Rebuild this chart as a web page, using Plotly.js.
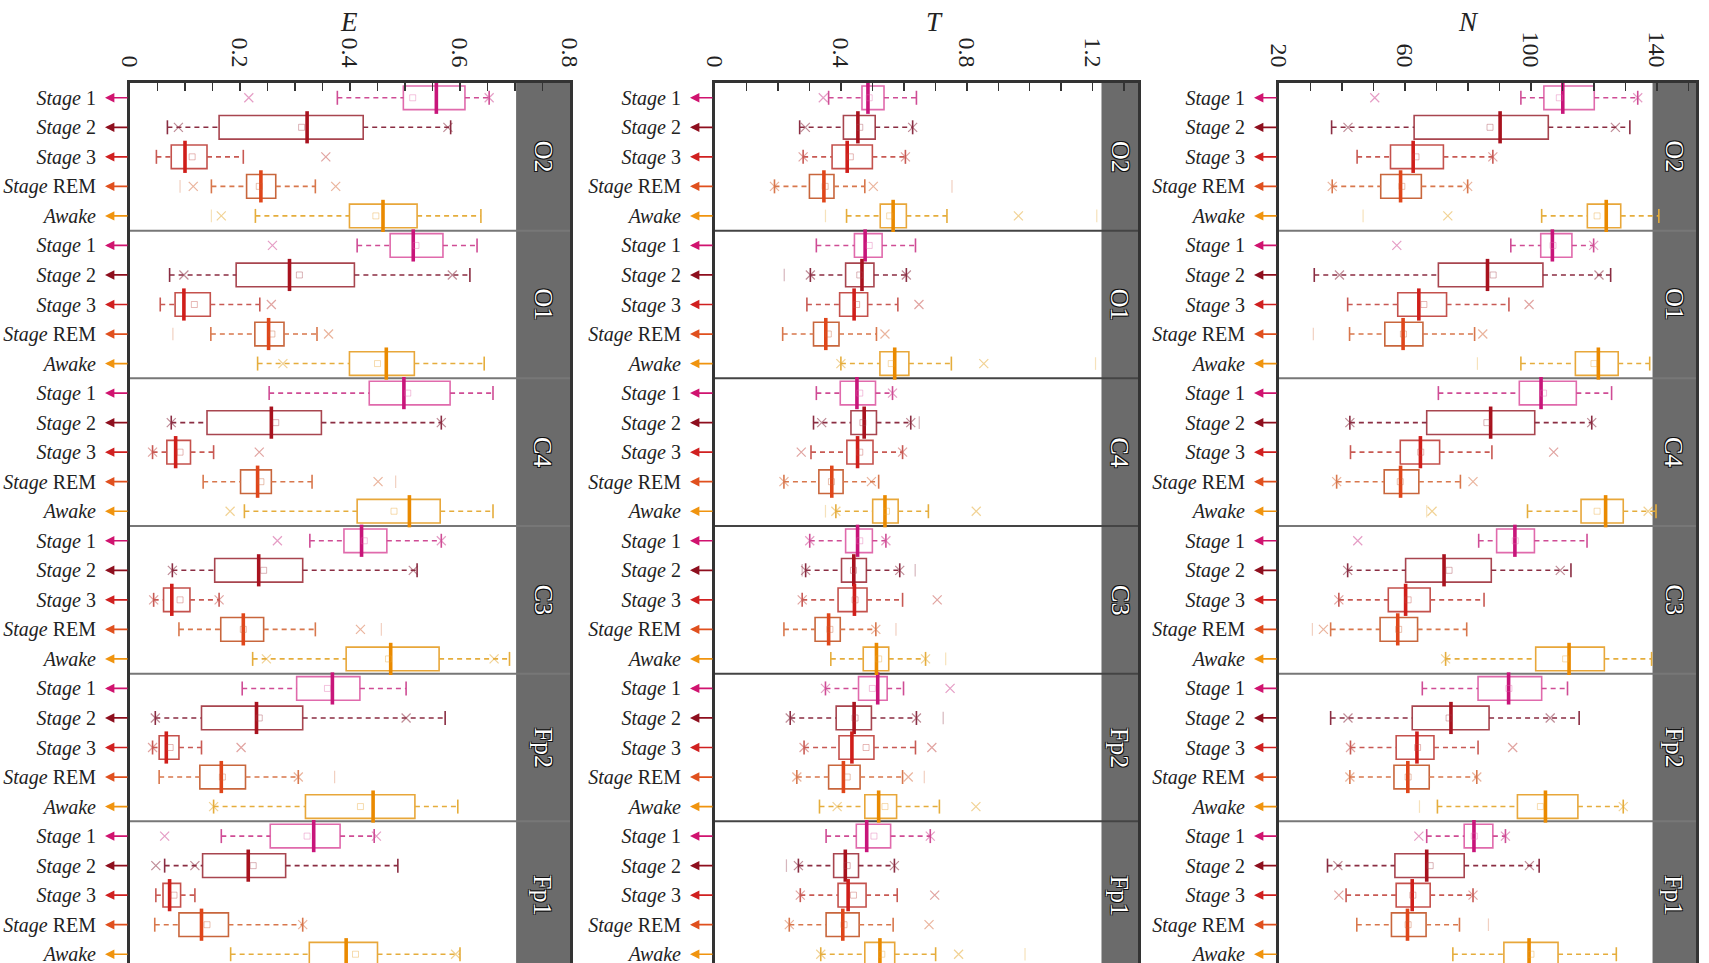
<!DOCTYPE html>
<html>
<head>
<meta charset="utf-8">
<script src="https://cdn.plot.ly/plotly-3.0.1.min.js"></script>
<style>
html, body { margin: 0; padding: 0; overflow: hidden; background: #fff; }
#chart { width: 1709px; height: 1000px; }
</style>
</head>
<body>
<div id="chart"></div>
<script>
// ---------------- DATA ----------------
const channels = ['O2', 'O1', 'C4', 'C3', 'Fp2', 'Fp1'];
const stages = ['Stage 1', 'Stage 2', 'Stage 3', 'Stage REM', 'Awake'];
const stageTickText = ['<i>Stage</i> 1', '<i>Stage</i> 2', '<i>Stage</i> 3', '<i>Stage</i> REM', '<i>Awake</i>'];

// index = channelIndex*5 + stageIndex
const E_lo  = [0.377,0.068,0.048,0.148,0.228, 0.413,0.072,0.055,0.147,0.232, 0.253,0.075,0.041,0.133,0.208, 0.327,0.077,0.043,0.089,0.223, 0.204,0.046,0.041,0.053,0.152, 0.166,0.063,0.047,0.045,0.183];
const E_q1  = [0.497,0.162,0.075,0.212,0.399, 0.473,0.193,0.082,0.227,0.399, 0.435,0.140,0.067,0.201,0.413, 0.389,0.154,0.061,0.165,0.393, 0.303,0.130,0.053,0.127,0.319, 0.255,0.132,0.060,0.089,0.326];
const E_med = [0.557,0.322,0.100,0.238,0.460, 0.515,0.290,0.098,0.252,0.466, 0.498,0.257,0.083,0.232,0.508, 0.421,0.234,0.076,0.206,0.474, 0.368,0.230,0.066,0.166,0.442, 0.334,0.215,0.072,0.130,0.393];
const E_q3  = [0.609,0.424,0.140,0.265,0.522, 0.569,0.408,0.146,0.280,0.517, 0.582,0.348,0.110,0.257,0.564, 0.467,0.314,0.109,0.243,0.562, 0.418,0.314,0.089,0.210,0.518, 0.382,0.283,0.092,0.179,0.450];
const E_hi  = [0.653,0.583,0.206,0.337,0.638, 0.631,0.618,0.236,0.340,0.644, 0.660,0.566,0.152,0.331,0.660, 0.566,0.522,0.162,0.337,0.690, 0.502,0.573,0.130,0.306,0.596, 0.444,0.487,0.118,0.314,0.600];
const E_mean= [0.514,0.312,0.113,0.235,0.447, 0.520,0.308,0.117,0.258,0.450, 0.505,0.265,0.091,0.238,0.480, 0.426,0.243,0.091,0.206,0.470, 0.359,0.235,0.073,0.168,0.419, 0.322,0.224,0.080,0.140,0.410];
const E_out = [[0.216,0.653],[0.088,0.578],[0.356],[0.115,0.374],[0.166], [0.259],[0.098,0.586],[0.257],[0.361],[0.278], [],[0.075,0.566],[0.041,0.235],[0.451],[0.182], [0.268,0.566],[0.077,0.515],[0.043,0.162],[0.419],[0.248,0.662], [],[0.046,0.502],[0.041,0.202],[0.306],[0.152], [0.063,0.448],[0.047,0.118],[],[0.314],[0.592]];
const E_faint = [[],[],[],[0.091],[0.148], [],[],[],[0.078],[], [],[],[],[0.483],[], [],[],[],[0.457],[], [],[],[],[0.372],[], [],[],[],[],[]];

const T_lo  = [0.361,0.269,0.280,0.189,0.418, 0.322,0.303,0.292,0.215,0.400, 0.322,0.313,0.305,0.219,0.384, 0.301,0.288,0.277,0.219,0.368, 0.351,0.239,0.283,0.260,0.332, 0.353,0.265,0.271,0.236,0.336];
const T_q1  = [0.467,0.408,0.372,0.300,0.525, 0.443,0.415,0.396,0.313,0.524, 0.398,0.432,0.419,0.330,0.501, 0.415,0.402,0.391,0.318,0.471, 0.456,0.385,0.394,0.361,0.476, 0.449,0.377,0.391,0.353,0.476];
const T_med = [0.486,0.454,0.420,0.346,0.566, 0.477,0.467,0.442,0.352,0.571, 0.451,0.474,0.453,0.371,0.540, 0.453,0.441,0.443,0.361,0.513, 0.517,0.442,0.435,0.408,0.520, 0.482,0.414,0.423,0.406,0.524];
const T_q3  = [0.537,0.509,0.500,0.378,0.608, 0.531,0.505,0.485,0.394,0.616, 0.510,0.513,0.502,0.407,0.582, 0.500,0.481,0.483,0.398,0.552, 0.547,0.497,0.505,0.461,0.577, 0.558,0.456,0.480,0.458,0.571];
const T_hi  = [0.640,0.628,0.605,0.476,0.737, 0.637,0.608,0.581,0.513,0.751, 0.564,0.622,0.596,0.520,0.678, 0.543,0.587,0.596,0.511,0.669, 0.599,0.640,0.637,0.596,0.713, 0.684,0.570,0.579,0.566,0.701];
const T_mean= [0.490,0.460,0.430,0.350,0.555, 0.490,0.460,0.450,0.360,0.560, 0.460,0.470,0.460,0.370,0.545, 0.460,0.440,0.445,0.365,0.520, 0.500,0.445,0.480,0.420,0.540, 0.505,0.420,0.440,0.410,0.530];
const T_out = [[0.344],[0.287,0.628],[0.280,0.605],[0.189,0.503],[0.964], [],[0.303,0.608],[0.648],[0.540],[0.400,0.854], [0.564],[0.339,0.622],[0.274,0.596],[0.219,0.497],[0.384,0.830], [0.301,0.543],[0.288,0.587],[0.277,0.706],[0.511],[0.669], [0.351,0.747],[0.239,0.640],[0.283,0.689],[0.260,0.614],[0.388,0.829], [0.684],[0.265,0.570],[0.271,0.698],[0.236,0.680],[0.336,0.774]];
const T_faint = [[],[],[],[0.753],[0.351,1.213], [],[0.220],[],[],[1.209], [],[0.649],[],[],[0.351], [],[0.277,0.636],[],[0.575],[0.733], [],[0.725],[],[0.665],[], [],[0.227],[],[],[0.985]];

const N_lo  = [96.8,36.7,44.8,36.9,103.4, 93.6,31.2,41.8,42.4,96.8, 70.6,42.5,42.7,38.3,98.9, 83.4,41.8,39.0,36.4,72.9, 65.5,36.4,42.7,42.5,70.3, 66.9,35.4,41.3,44.7,75.2];
const N_q1  = [104.1,62.9,55.4,52.3,117.9, 103.1,70.6,57.7,53.6,114.1, 96.3,66.9,58.5,53.4,115.9, 89.1,60.2,54.7,52.1,101.5, 83.2,62.3,57.2,56.5,95.7, 78.8,56.8,57.2,55.7,91.4];
const N_med = [110.1,90.2,62.6,58.6,123.9, 106.8,86.2,64.4,59.4,121.4, 103.2,87.2,64.9,58.6,123.7, 94.9,72.4,60.2,57.7,112.1, 92.9,74.6,63.8,60.9,104.6, 81.9,66.9,62.3,60.8,99.4];
const N_q3  = [120.1,105.5,72.2,65.2,128.5, 113.0,103.8,73.2,65.7,127.7, 114.4,101.2,71.0,64.4,129.3, 101.1,87.4,68.0,64.0,123.3, 103.4,86.7,69.2,67.7,114.9, 87.9,78.8,68.0,66.7,108.6];
const N_hi  = [133.9,131.4,87.9,79.9,140.6, 119.9,125.3,93.0,82.1,137.7, 125.6,119.3,87.6,77.6,139.7, 117.8,112.7,85.1,79.6,138.3, 111.6,115.3,83.2,82.8,129.3, 91.9,102.6,81.6,77.3,127.1];
const N_mean= [109,87,63.5,59,121, 107,88,66,59.5,120, 104,86,65,58.5,121, 95,74,61,58,111, 93,74,64,61,103, 82,68,62.5,61,100];
const N_out = [[50.4,133.9],[41.9,126.8],[87.9],[36.9,79.9],[73.6], [57.4,119.9],[39.2,121.6],[99.4],[84.7],[], [],[42.5,119.3],[107.2],[38.3,81.6],[68.6,137.2], [45.0],[41.8,109.3],[39.0],[34.1],[72.9], [],[41.9,106.1],[42.7,94.2],[42.5,82.8],[129.3], [64.4,91.9],[38.7,99.5],[39.0,81.6],[],[]];
const N_faint = [[],[],[],[],[46.7], [],[],[],[30.9],[83.0], [],[],[],[],[66.9], [],[],[],[30.6],[], [],[],[],[],[64.6], [],[],[],[86.5],[]];

// ---------------- STYLE ----------------
const FONT = '"Liberation Serif", "Times New Roman", serif';
const W = 1709;
const boxCol   = ['#e06aac', '#a8454f', '#c4514c', '#c8663c', '#e8a73a'];
const medCol   = ['#c8157a', '#a8121e', '#d01e1a', '#e0461a', '#ea8a00'];
const whiskCol = ['#cf4c95', '#8a2d42', '#c85953', '#d8774c', '#e5ad3c'];
const arrowCol = ['#d0136f', '#8e0f1e', '#d02020', '#e0501e', '#f0940f'];

const panels = [
  {name:'E', xa:'x',  ya:'y',  lo:E_lo, q1:E_q1, med:E_med, q3:E_q3, hi:E_hi, mean:E_mean, out:E_out, faint:E_faint,
   range:[0, 0.8], strip0:0.702, tick0:0, dtick:0.2, minor:0.05, px:[130, 570], titleX:349},
  {name:'T', xa:'x2', ya:'y2', lo:T_lo, q1:T_q1, med:T_med, q3:T_q3, hi:T_hi, mean:T_mean, out:T_out, faint:T_faint,
   range:[0, 1.344], strip0:1.228, tick0:0, dtick:0.4, minor:0.1, px:[715, 1138], titleX:934},
  {name:'N', xa:'x3', ya:'y3', lo:N_lo, q1:N_q1, med:N_med, q3:N_q3, hi:N_hi, mean:N_mean, out:N_out, faint:N_faint,
   range:[20, 152.4], strip0:138.6, tick0:20, dtick:40, minor:10, px:[1279, 1696], titleX:1468}
];

const traces = [];
const shapes = [];
const annotations = [];
const layout = {
  width: 1709, height: 1000,
  margin: {l: 0, r: 0, t: 83, b: 31},
  paper_bgcolor: '#fff', plot_bgcolor: '#fff',
  showlegend: false,
  font: {family: FONT, color: '#222'},
  shapes: shapes, annotations: annotations
};

const rowsAll = [];
const tickTextAll = [];
channels.forEach((c, ci) => stages.forEach((s, si) => { rowsAll.push(ci * 5 + si); tickTextAll.push(stageTickText[si]); }));

panels.forEach((p, pi) => {
  const suffix = pi === 0 ? '' : String(pi + 1);
  const wpx = p.px[1] - p.px[0];
  layout['xaxis' + suffix] = {
    domain: [p.px[0] / W, p.px[1] / W], anchor: p.ya, range: p.range, side: 'top',
    tick0: p.tick0, dtick: p.dtick, ticks: 'inside', ticklen: 8, tickwidth: 1.5, tickcolor: '#333',
    minor: {tick0: p.tick0, dtick: p.minor, ticks: 'inside', ticklen: 8, tickwidth: 1.5, tickcolor: '#333', showgrid: false},
    tickangle: 90, tickfont: {family: FONT, size: 24, color: '#222'}, ticklabelstandoff: 4,
    showline: true, mirror: true, linecolor: '#333', linewidth: 3,
    showgrid: false, zeroline: false, fixedrange: true
  };
  layout['yaxis' + suffix] = {
    domain: [0, 1], anchor: p.xa, range: [29.5, -0.5],
    tickmode: 'array', tickvals: rowsAll, ticktext: tickTextAll,
    ticks: 'outside', ticklen: 27, tickcolor: 'rgba(0,0,0,0)',
    tickfont: {family: FONT, size: 20, color: '#222'},
    showline: true, mirror: true, linecolor: '#333', linewidth: 3,
    showgrid: false, zeroline: false, fixedrange: true
  };

  // facet strip
  shapes.push({type: 'rect', xref: p.xa, yref: p.ya + ' domain', x0: p.strip0, x1: p.range[1], y0: 0, y1: 1,
               fillcolor: '#6b6b6b', line: {width: 0}, layer: 'below'});
  // group separators
  for (let g = 1; g < channels.length; g++) {
    shapes.push({type: 'line', xref: p.xa + ' domain', yref: p.ya, x0: 0, x1: 1, y0: g * 5 - 0.5, y1: g * 5 - 0.5,
                 line: {color: pi === 1 ? '#444' : '#777', width: 2}, layer: 'below'});
  }
  // strip labels
  channels.forEach((c, ci) => {
    annotations.push({xref: p.xa, yref: p.ya, x: (p.strip0 + p.range[1]) / 2, y: ci * 5 + 2, text: c,
      showarrow: false, textangle: 90,
      font: {family: FONT, size: 26, color: '#fff',
             shadow: '1px 1px 0 #111, -1px -1px 0 #111, 1px -1px 0 #111, -1px 1px 0 #111'}});
  });
  // axis title
  annotations.push({xref: 'paper', yref: 'paper', x: p.titleX / W, y: 1, yshift: 61, xanchor: 'center', yanchor: 'middle',
    text: '<i>' + p.name + '</i>', showarrow: false, font: {family: FONT, size: 27, color: '#222'}});

  // stage arrows next to tick labels
  rowsAll.forEach((r) => {
    const si = r % 5;
    annotations.push({xref: p.xa + ' domain', yref: p.ya, x: -25 / wpx, y: r, ax: 24, ay: 0, text: '',
      showarrow: true, arrowhead: 2, arrowsize: 1.1, arrowwidth: 1.7, arrowcolor: arrowCol[si], standoff: 0});
  });

  stages.forEach((s, si) => {
    const idx = channels.map((c, ci) => ci * 5 + si);
    const rows = idx;
    const lo = idx.map(i => p.lo[i]), q1 = idx.map(i => p.q1[i]), md = idx.map(i => p.med[i]);
    const q3 = idx.map(i => p.q3[i]), hi = idx.map(i => p.hi[i]), mn = idx.map(i => p.mean[i]);

    // dashed whiskers
    const wx = [], wy = [];
    idx.forEach((i, k) => {
      wx.push(lo[k], q1[k], null, q3[k], hi[k], null);
      wy.push(rows[k], rows[k], null, rows[k], rows[k], null);
    });
    traces.push({type: 'scatter', mode: 'lines', xaxis: p.xa, yaxis: p.ya, x: wx, y: wy,
      line: {color: whiskCol[si], width: 1.6, dash: '5px,4px'}, hoverinfo: 'skip'});
    // whisker caps
    traces.push({type: 'scatter', mode: 'markers', xaxis: p.xa, yaxis: p.ya,
      x: lo.concat(hi), y: rows.concat(rows),
      marker: {symbol: 'line-ns-open', size: 10, color: whiskCol[si], line: {color: whiskCol[si], width: 1.6}}, hoverinfo: 'skip'});
    // boxes
    traces.push({type: 'box', orientation: 'h', xaxis: p.xa, yaxis: p.ya, y: rows,
      q1: q1, median: md, q3: q3, lowerfence: q1, upperfence: q3,
      width: 0.8, whiskerwidth: 0, boxpoints: false,
      line: {color: boxCol[si], width: 1.6}, fillcolor: 'rgba(255,255,255,0)', hoverinfo: 'skip'});
    // thick median
    traces.push({type: 'scatter', mode: 'markers', xaxis: p.xa, yaxis: p.ya, x: md, y: rows,
      marker: {symbol: 'line-ns-open', size: 23, color: medCol[si], line: {color: medCol[si], width: 3.6}}, hoverinfo: 'skip'});
    // mean marker
    traces.push({type: 'scatter', mode: 'markers', xaxis: p.xa, yaxis: p.ya, x: mn, y: rows,
      marker: {symbol: 'square-open', size: 6, color: boxCol[si], opacity: 0.4, line: {width: 1, color: boxCol[si]}}, hoverinfo: 'skip'});
    // outliers
    const ox = [], oy = [];
    idx.forEach((i) => p.out[i].forEach(v => { ox.push(v); oy.push(i); }));
    traces.push({type: 'scatter', mode: 'markers', xaxis: p.xa, yaxis: p.ya, x: ox, y: oy,
      marker: {symbol: 'x-thin-open', size: 9, color: whiskCol[si], opacity: 0.55, line: {width: 1.2, color: whiskCol[si]}}, hoverinfo: 'skip'});
    const fx = [], fy = [];
    idx.forEach((i) => p.faint[i].forEach(v => { fx.push(v); fy.push(i); }));
    traces.push({type: 'scatter', mode: 'markers', xaxis: p.xa, yaxis: p.ya, x: fx, y: fy,
      marker: {symbol: 'line-ns-open', size: 9, color: whiskCol[si], opacity: 0.35, line: {width: 1.2, color: whiskCol[si]}}, hoverinfo: 'skip'});
  });
});

Plotly.newPlot('chart', traces, layout, {displayModeBar: false, staticPlot: true});
</script>
</body>
</html>
